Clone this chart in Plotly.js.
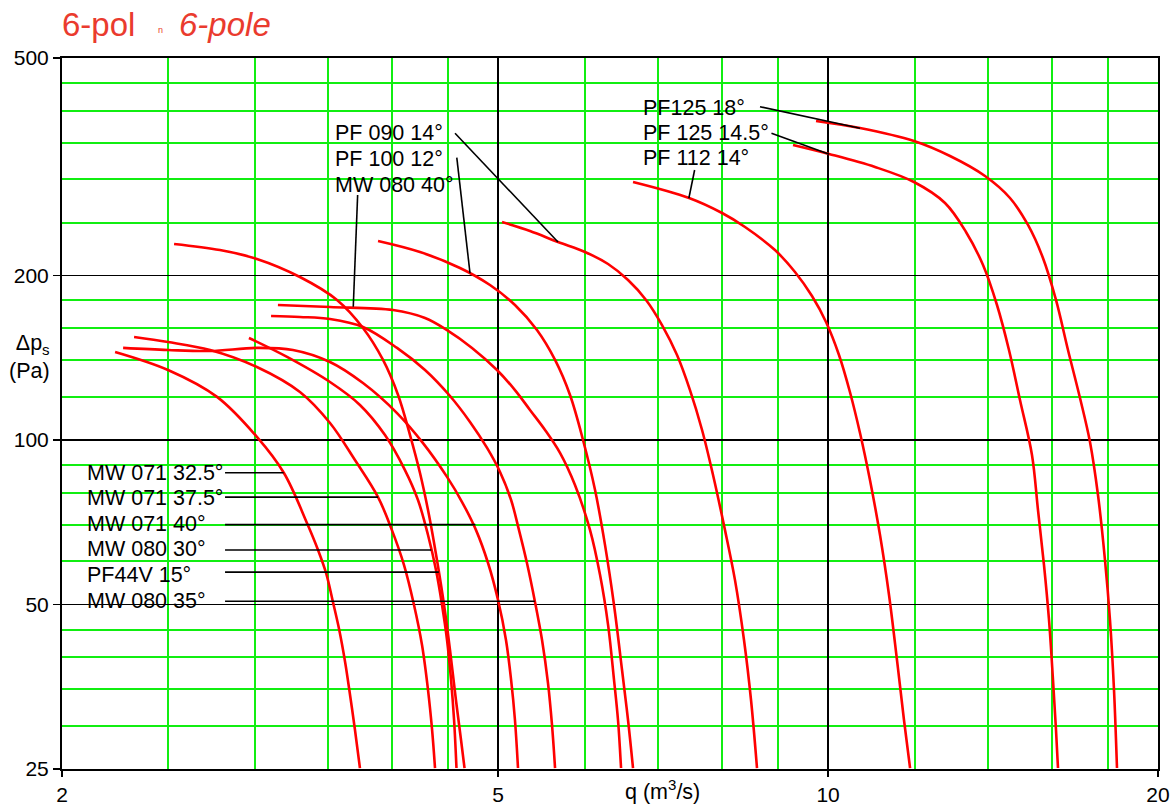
<!DOCTYPE html>
<html>
<head>
<meta charset="utf-8">
<script src="https://cdn.plot.ly/plotly-3.0.1.min.js"></script>
<style>html,body{margin:0;padding:0;background:#fff;}#chart{width:1174px;height:805px;}</style>
</head>
<body>
<div id="chart"></div>
<script>
// ---- Data (q in m3/s, dp in Pa) ----
var q_mw071_325 = [2.236, 2.499, 2.770, 3.012, 3.188, 3.346, 3.425, 3.483, 3.534, 3.581, 3.627, 3.665, 3.701, 3.740];
var p_mw071_325 = [144.9, 134.3, 119.9, 101.3, 87.0, 70.5, 62.9, 57.1, 50.5, 44.9, 39.0, 33.9, 29.5, 25.1];

var q_mw071_375 = [2.327, 2.499, 2.730, 3.012, 3.297, 3.512, 3.701, 3.885, 4.000, 4.103, 4.190, 4.261, 4.315, 4.352, 4.379];
var p_mw071_375 = [154.3, 151.1, 146.1, 136.0, 122.4, 107.4, 91.9, 78.6, 68.4, 59.05, 49.9, 42.15, 34.9, 29.5, 25.1];

var q_mw071_40 = [2.274, 2.499, 2.730, 3.012, 3.249, 3.512, 3.764, 4.043, 4.270, 4.491, 4.635, 4.773, 4.895, 4.999, 5.083, 5.138, 5.180, 5.213];
var p_mw071_40 = [147.4, 146.1, 145.5, 147.4, 146.1, 138.9, 127.1, 112.0, 98.7, 85.6, 77.0, 68.4, 59.55, 50.95, 43.05, 36.4, 30.7, 25.1];

var q_mw080_30 = [2.962, 3.209, 3.512, 3.740, 3.942, 4.111, 4.225, 4.315, 4.388, 4.444, 4.491, 4.529, 4.558, 4.581];
var p_mw080_30 = [153.7, 141.9, 127.65, 115.9, 102.1, 88.1, 77.65, 67.0, 57.8, 49.9, 43.05, 36.4, 30.7, 25.1];

var q_pf44v_15 = [2.531, 2.787, 3.012, 3.297, 3.564, 3.764, 3.926, 4.052, 4.155, 4.243, 4.324, 4.397, 4.463, 4.519, 4.576, 4.625, 4.659];
var p_pf44v_15 = [228.4, 222.6, 214.4, 198.7, 180.4, 160.3, 140.1, 120.85, 102.1, 87.0, 72.9, 60.3, 49.9, 41.3, 33.4, 28.25, 25.1];

var q_mw080_35 = [3.103, 3.297, 3.512, 3.764, 4.043, 4.288, 4.519, 4.713, 4.885, 5.020, 5.138, 5.224, 5.312, 5.403, 5.483, 5.552, 5.599, 5.635];
var p_mw080_35 = [168.6, 167.9, 166.5, 161.0, 147.4, 134.3, 120.35, 107.9, 96.7, 87.4, 77.65, 68.4, 59.55, 50.5, 43.05, 35.9, 30.1, 25.1];

var q_mw080_40 = [3.148, 3.512, 4.009, 4.288, 4.491, 4.733, 4.988, 5.180, 5.346, 5.518, 5.694, 5.876, 6.065, 6.194, 6.299, 6.378, 6.432, 6.473];
var p_mw080_40 = [176.6, 175.1, 172.9, 167.2, 158.9, 147.4, 134.3, 123.4, 113.5, 104.3, 94.7, 82.7, 68.4, 56.6, 45.9, 36.4, 30.7, 25.1];

var q_pf100_12 = [3.885, 4.243, 4.615, 4.915, 5.180, 5.425, 5.635, 5.815, 5.976, 6.129, 6.259, 6.378, 6.487, 6.569, 6.638];
var p_pf100_12 = [231.3, 220.8, 206.4, 192.1, 176.6, 158.9, 140.1, 120.85, 100.0, 81.0, 64.2, 49.9, 37.9, 30.7, 25.1];

var q_pf090_14 = [5.041, 5.346, 5.670, 6.001, 6.299, 6.569, 6.822, 7.055, 7.281, 7.482, 7.674, 7.853, 8.053, 8.224, 8.381, 8.506, 8.613];
var p_pf090_14 = [250.5, 241.2, 230.3, 220.8, 209.9, 196.2, 180.4, 162.3, 143.05, 123.4, 104.3, 86.3, 68.4, 55.4, 43.05, 33.4, 25.1];

var q_pf112_14 = [6.638, 7.467, 8.003, 8.399, 8.944, 9.329, 9.668, 9.957, 10.232, 10.47, 10.694, 10.92, 11.153, 11.366, 11.558, 11.729, 11.88];
var p_pf112_14 = [296.5, 277.2, 260.2, 245.3, 222.6, 202.95, 183.4, 164.4, 143.05, 122.4, 102.98, 84.47, 67.0, 52.04, 39.57, 30.73, 25.1];

var q_pf125_145 = [9.290, 10.02, 11.036, 11.978, 12.785, 13.361, 13.848, 14.26, 14.624, 14.966, 15.348, 15.543, 15.74, 15.907, 16.041, 16.142, 16.21];
var p_pf125_145 = [346.5, 333.7, 315.9, 296.5, 271.4, 240.2, 209.0, 176.6, 146.1, 118.35, 93.9, 74.45, 59.05, 46.84, 36.4, 29.5, 25.1];

var q_pf125_18 = [9.750, 10.694, 11.978, 12.92, 13.906, 14.655, 15.220, 15.706, 16.142, 16.554, 16.977, 17.337, 17.631, 17.892, 18.081, 18.234, 18.349];
var p_pf125_18 = [383.4, 372.3, 352.4, 330.8, 304.1, 277.2, 247.4, 215.3, 180.4, 146.1, 119.35, 99.15, 79.3, 60.3, 46.84, 34.9, 25.1];

// labels and their leader lines [start, end]
var curveNames = ["MW 071 32.5°", "MW 071 37.5°", "MW 071 40°", "MW 080 30°", "PF44V 15°", "MW 080 35°",
                  "MW 080 40°", "PF 100 12°", "PF 090 14°", "PF 112 14°", "PF 125 14.5°", "PF125 18°"];
var leaderQ = [[2.817, 3.186], [2.817, 3.885], [2.817, 4.766], [2.817, 4.345], [2.817, 4.414], [2.817, 5.400],
               [3.722, 3.688], [4.584, 4.713], [4.567, 5.670], [7.555, 7.464], [8.879, 10.024], [8.667, 10.694]];
var leaderP = [[87.1, 87.1], [78.6, 78.6], [70.0, 70.0], [62.9, 62.9], [57.3, 57.3], [50.7, 50.7],
               [280.7, 175.3], [328.5, 201.9], [364.1, 230.3], [311.9, 276.9], [364.1, 333.2], [407.2, 371.8]];

var xMajor = [2, 5, 10, 20];
var xMinor = [2.5, 3, 3.5, 4, 4.5, 6, 7, 8, 9, 12, 14, 16, 18];
var yMajor = [25, 50, 100, 200, 500];
var yMinor = [30, 35, 40, 45, 60, 70, 80, 90, 120, 140, 160, 180, 250, 300, 350, 400, 450];

// ---- Build ----
var curvesQ = [q_mw071_325, q_mw071_375, q_mw071_40, q_mw080_30, q_pf44v_15, q_mw080_35,
               q_mw080_40, q_pf100_12, q_pf090_14, q_pf112_14, q_pf125_145, q_pf125_18];
var curvesP = [p_mw071_325, p_mw071_375, p_mw071_40, p_mw080_30, p_pf44v_15, p_mw080_35,
               p_mw080_40, p_pf100_12, p_pf090_14, p_pf112_14, p_pf125_145, p_pf125_18];

var traces = [];
for (var i = 0; i < curvesQ.length; i++) {
  traces.push({x: curvesQ[i], y: curvesP[i], type: 'scatter', mode: 'lines', name: curveNames[i],
    line: {color: '#ff0000', width: 2.6, shape: 'spline', smoothing: 1}, hoverinfo: 'x+y+name'});
}
for (var j = 0; j < leaderQ.length; j++) {
  traces.push({x: leaderQ[j], y: leaderP[j], type: 'scatter', mode: 'lines', showlegend: false,
    line: {color: '#000000', width: 1.6}, hoverinfo: 'skip'});
}

var L = 62, R = 1158, T = 58, B = 769;
function px(x) { return (x - L) / (R - L); }
function py(y) { return (B - y) / (B - T); }

var FAM = 'Liberation Sans, Arial, sans-serif';
var font = {family: FAM, size: 21.5, color: '#000'};
var tickFont = {family: FAM, size: 21, color: '#000'};
var red = '#ea3b2e';

var annotations = [];
function lab(text, x, y) {
  annotations.push({xref: 'paper', yref: 'paper', x: px(x), y: py(y), text: text, showarrow: false,
    xanchor: 'left', yanchor: 'middle', font: font, borderpad: 0});
}
lab('MW 071 32.5°', 86, 472.5);
lab('MW 071 37.5°', 86, 497.5);
lab('MW 071 40°', 86, 523.5);
lab('MW 080 30°', 86, 549);
lab('PF44V 15°', 86, 574.5);
lab('MW 080 35°', 86, 601);
lab('PF 090 14°', 334, 133.5);
lab('PF 100 12°', 334, 158.5);
lab('MW 080 40°', 334, 185);
lab('PF125 18°', 642, 108);
lab('PF 125 14.5°', 642, 133);
lab('PF 112 14°', 642, 158);

// titles
annotations.push({xref: 'paper', yref: 'paper', x: px(60), y: py(24), text: '6-pol', showarrow: false,
  xanchor: 'left', yanchor: 'middle', font: {family: FAM, size: 33, color: red}});
annotations.push({xref: 'paper', yref: 'paper', x: px(156), y: py(30), text: 'n', showarrow: false,
  xanchor: 'left', yanchor: 'middle', font: {family: FAM, size: 9, color: red}});
annotations.push({xref: 'paper', yref: 'paper', x: px(177), y: py(24), text: '<i>6-pole</i>', showarrow: false,
  xanchor: 'left', yanchor: 'middle', font: {family: FAM, size: 33, color: red}});
// axis titles
annotations.push({xref: 'paper', yref: 'paper', x: px(29), y: py(357), text: 'Δp<sub>s</sub><br>(Pa)', showarrow: false,
  xanchor: 'center', yanchor: 'middle', align: 'right', font: font});
annotations.push({xref: 'paper', yref: 'paper', x: px(662), y: py(790), text: 'q (m<sup>3</sup>/s)', showarrow: false,
  xanchor: 'center', yanchor: 'middle', font: font});

function box(x0, y0, x1, y1) {
  return {type: 'rect', xref: 'paper', yref: 'paper', x0: px(x0), x1: px(x1), y0: py(y1), y1: py(y0),
    fillcolor: '#ffffff', line: {width: 0}, layer: 'between'};
}
var shapes = [box(86, 458, 232, 612), box(332, 121, 450, 197), box(641, 96, 775, 170)];

var layout = {
  width: 1174, height: 805,
  margin: {l: L, r: 1174 - R, t: T, b: 805 - B},
  paper_bgcolor: '#ffffff', plot_bgcolor: '#ffffff',
  showlegend: false,
  font: font,
  xaxis: {
    type: 'log', range: [Math.log10(2), Math.log10(20)],
    tickmode: 'array', tickvals: xMajor, ticktext: xMajor.map(String),
    showgrid: true, gridcolor: '#000000', gridwidth: 1.7,
    ticks: 'outside', ticklen: 6, tickcolor: '#000', tickwidth: 1.5,
    showline: true, linecolor: '#000', linewidth: 2, mirror: true,
    zeroline: false, tickfont: tickFont,
    minor: {tickmode: 'array', tickvals: xMinor, showgrid: true, gridcolor: '#11ee11', gridwidth: 2, ticks: ''}
  },
  yaxis: {
    type: 'log', range: [Math.log10(25), Math.log10(500)],
    tickmode: 'array', tickvals: yMajor, ticktext: yMajor.map(String),
    showgrid: true, gridcolor: '#000000', gridwidth: 1.7,
    ticks: 'outside', ticklen: 7, tickcolor: '#000', tickwidth: 1.5,
    showline: true, linecolor: '#000', linewidth: 2, mirror: true,
    zeroline: false, tickfont: tickFont,
    minor: {tickmode: 'array', tickvals: yMinor, showgrid: true, gridcolor: '#11ee11', gridwidth: 2, ticks: ''}
  },
  annotations: annotations,
  shapes: shapes
};

Plotly.newPlot('chart', traces, layout, {displayModeBar: false, staticPlot: true});
</script>
</body>
</html>
